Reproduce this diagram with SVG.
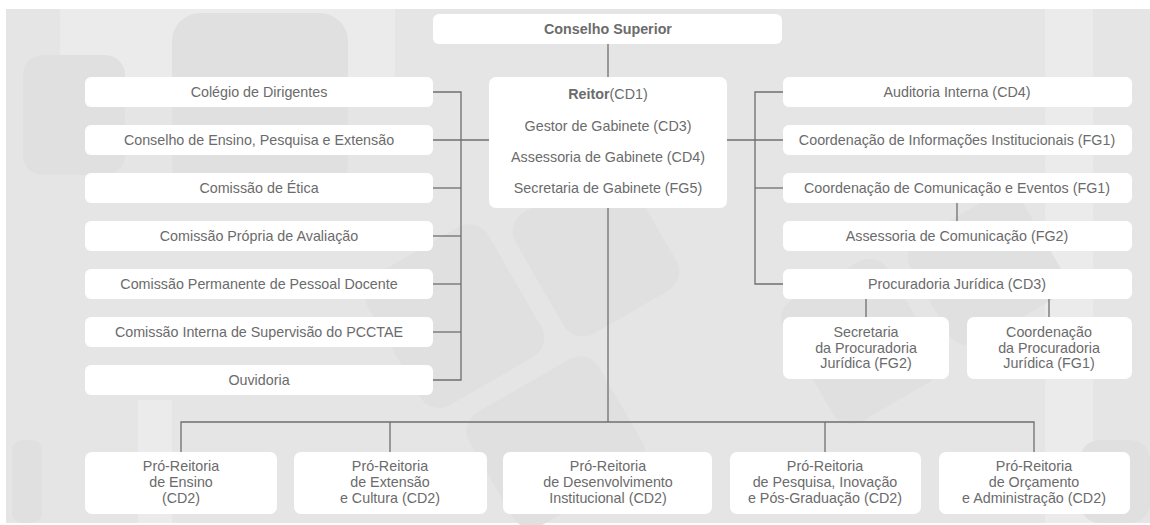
<svg xmlns="http://www.w3.org/2000/svg" width="1150" height="525" viewBox="0 0 1150 525">
<style>
.bg{fill:#e5e5e5}
.lt{fill:#eaebea}
.dk{fill:#e0e0e0}
.box{fill:#ffffff}
.t{font-family:"Liberation Sans",Arial,sans-serif;font-size:14.3px;fill:#6b6b6b;text-anchor:middle}
.b{font-weight:bold}
.ln{stroke:#6f6f6f;stroke-width:1.3;fill:none}
</style>
<rect width="1150" height="525" fill="#ffffff"/>
<g id="background">
<rect class="bg" x="6" y="9" width="1144" height="514"/>
<rect class="lt" x="60" y="9" width="335" height="70"/>
<rect class="lt" x="1045" y="9" width="48" height="514"/>
<rect class="lt" x="138" y="400" width="34" height="123"/>
<rect class="dk" x="172" y="13" width="176" height="180" rx="28"/>
<rect class="dk" x="23" y="55" width="102" height="120" rx="20"/>
<rect class="dk" x="12" y="440" width="30" height="83" rx="10"/>
<g transform="rotate(-30 520 330)">
<rect class="dk" x="400" y="210" width="140" height="150" rx="22"/>
<rect class="dk" x="560" y="230" width="130" height="140" rx="22"/>
<rect class="dk" x="420" y="380" width="150" height="130" rx="22"/>
</g>
<g transform="rotate(-30 900 330)">
<rect class="dk" x="800" y="250" width="120" height="140" rx="22"/>
<rect class="dk" x="940" y="260" width="130" height="120" rx="22"/>
</g>
<rect class="dk" x="1080" y="440" width="70" height="83" rx="20"/>
</g>
<g id="connectors">
<path class="ln" d="M608 44V77"/>
<path class="ln" d="M608 208V422"/>
<path class="ln" d="M181 452V422H1034V452"/>
<path class="ln" d="M390 422V452"/>
<path class="ln" d="M825 422V452"/>
<path class="ln" d="M433 92H461V380H433"/>
<path class="ln" d="M433 140H489"/>
<path class="ln" d="M461 188H433"/>
<path class="ln" d="M461 236H433"/>
<path class="ln" d="M461 284H433"/>
<path class="ln" d="M461 332H433"/>
<path class="ln" d="M783 92H755V284H783"/>
<path class="ln" d="M727 140H783"/>
<path class="ln" d="M755 188H783"/>
<path class="ln" d="M957 203V221"/>
<path class="ln" d="M866 299V317"/>
<path class="ln" d="M1049 299V317"/>
</g>
<g id="conselho-superior">
<rect class="box" x="433" y="14" width="349" height="30" rx="6"/>
<text class="t b" x="608" y="34">Conselho Superior</text>
</g>
<g id="reitor">
<rect class="box" x="489" y="77" width="238" height="131" rx="7"/>
<text class="t" x="608" y="99"><tspan class="b">Reitor</tspan>(CD1)</text>
<text class="t" x="608" y="130.5">Gestor de Gabinete (CD3)</text>
<text class="t" x="608" y="162">Assessoria de Gabinete (CD4)</text>
<text class="t" x="608" y="193">Secretaria de Gabinete (FG5)</text>
</g>
<g id="colegio-dirigentes">
<rect class="box" x="85" y="77" width="348" height="30" rx="6"/>
<text class="t" x="259" y="97">Colégio de Dirigentes</text>
</g>
<g id="conselho-ensino">
<rect class="box" x="85" y="125" width="348" height="30" rx="6"/>
<text class="t" x="259" y="145">Conselho de Ensino, Pesquisa e Extensão</text>
</g>
<g id="comissao-etica">
<rect class="box" x="85" y="173" width="348" height="30" rx="6"/>
<text class="t" x="259" y="193">Comissão de Ética</text>
</g>
<g id="comissao-avaliacao">
<rect class="box" x="85" y="221" width="348" height="30" rx="6"/>
<text class="t" x="259" y="241">Comissão Própria de Avaliação</text>
</g>
<g id="comissao-docente">
<rect class="box" x="85" y="269" width="348" height="30" rx="6"/>
<text class="t" x="259" y="289">Comissão Permanente de Pessoal Docente</text>
</g>
<g id="comissao-pcctae">
<rect class="box" x="85" y="317" width="348" height="30" rx="6"/>
<text class="t" x="259" y="337">Comissão Interna de Supervisão do PCCTAE</text>
</g>
<g id="ouvidoria">
<rect class="box" x="85" y="365" width="348" height="30" rx="6"/>
<text class="t" x="259" y="385">Ouvidoria</text>
</g>
<g id="auditoria">
<rect class="box" x="783" y="77" width="349" height="30" rx="6"/>
<text class="t" x="957" y="97">Auditoria Interna (CD4)</text>
</g>
<g id="coord-informacoes">
<rect class="box" x="783" y="125" width="349" height="30" rx="6"/>
<text class="t" x="957" y="145">Coordenação de Informações Institucionais (FG1)</text>
</g>
<g id="coord-comunicacao">
<rect class="box" x="783" y="173" width="349" height="30" rx="6"/>
<text class="t" x="957" y="193">Coordenação de Comunicação e Eventos (FG1)</text>
</g>
<g id="assessoria-comunicacao">
<rect class="box" x="783" y="221" width="349" height="30" rx="6"/>
<text class="t" x="957" y="241">Assessoria de Comunicação (FG2)</text>
</g>
<g id="procuradoria">
<rect class="box" x="783" y="269" width="349" height="30" rx="6"/>
<text class="t" x="957" y="289">Procuradoria Jurídica (CD3)</text>
</g>
<g id="secretaria-procuradoria">
<rect class="box" x="783" y="317" width="166" height="62" rx="7"/>
<text class="t" x="866" y="337">Secretaria</text>
<text class="t" x="866" y="352.5">da Procuradoria</text>
<text class="t" x="866" y="368">Jurídica (FG2)</text>
</g>
<g id="coordenacao-procuradoria">
<rect class="box" x="967" y="317" width="165" height="62" rx="7"/>
<text class="t" x="1049" y="337">Coordenação</text>
<text class="t" x="1049" y="352.5">da Procuradoria</text>
<text class="t" x="1049" y="368">Jurídica (FG1)</text>
</g>
<g id="pro-ensino">
<rect class="box" x="85" y="452" width="192" height="62" rx="7"/>
<text class="t" x="181" y="471">Pró-Reitoria</text>
<text class="t" x="181" y="487">de Ensino</text>
<text class="t" x="181" y="503">(CD2)</text>
</g>
<g id="pro-extensao">
<rect class="box" x="294" y="452" width="193" height="62" rx="7"/>
<text class="t" x="390" y="471">Pró-Reitoria</text>
<text class="t" x="390" y="487">de Extensão</text>
<text class="t" x="390" y="503">e Cultura (CD2)</text>
</g>
<g id="pro-desenvolvimento">
<rect class="box" x="503" y="452" width="209" height="62" rx="7"/>
<text class="t" x="608" y="471">Pró-Reitoria</text>
<text class="t" x="608" y="487">de Desenvolvimento</text>
<text class="t" x="608" y="503">Institucional (CD2)</text>
</g>
<g id="pro-pesquisa">
<rect class="box" x="730" y="452" width="191" height="62" rx="7"/>
<text class="t" x="825" y="471">Pró-Reitoria</text>
<text class="t" x="825" y="487">de Pesquisa, Inovação</text>
<text class="t" x="825" y="503">e Pós-Graduação (CD2)</text>
</g>
<g id="pro-orcamento">
<rect class="box" x="939" y="452" width="191" height="62" rx="7"/>
<text class="t" x="1034" y="471">Pró-Reitoria</text>
<text class="t" x="1034" y="487">de Orçamento</text>
<text class="t" x="1034" y="503">e Administração (CD2)</text>
</g>
</svg>
